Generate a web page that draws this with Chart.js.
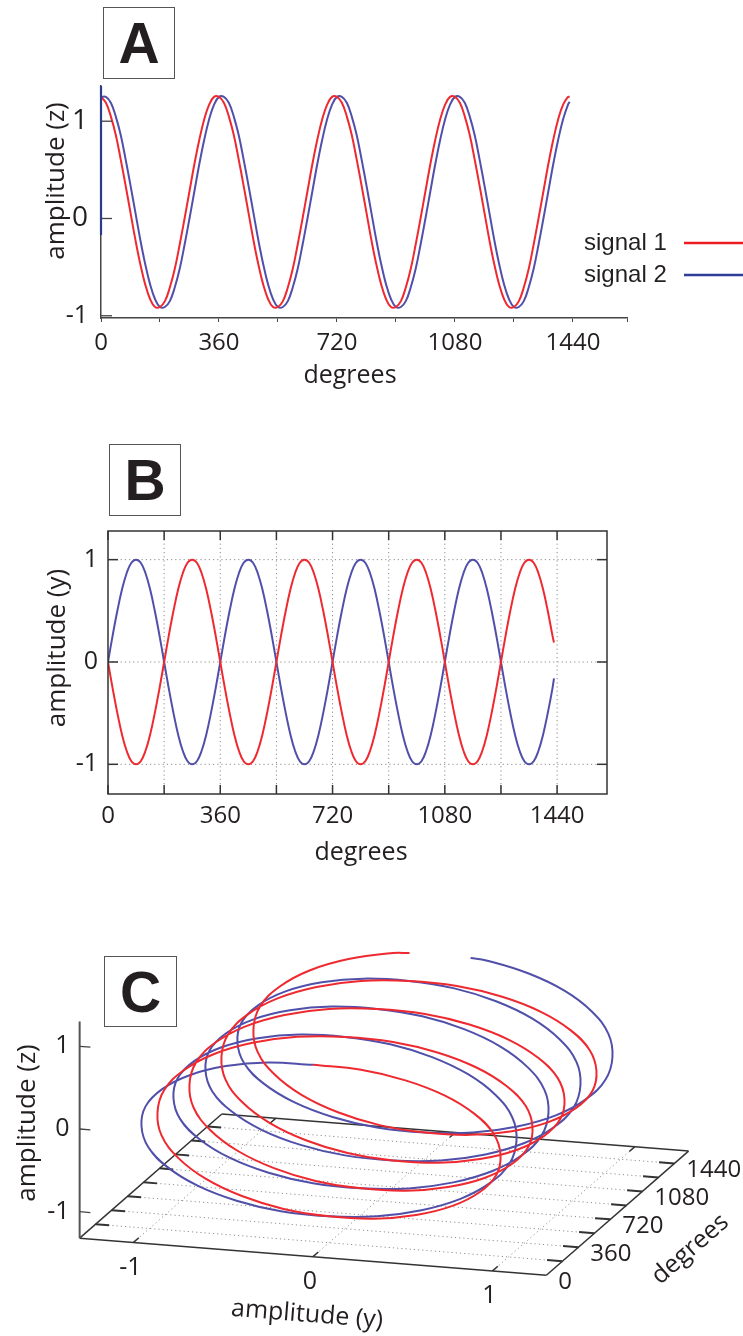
<!DOCTYPE html>
<html>
<head>
<meta charset="utf-8">
<script src="https://cdn.jsdelivr.net/npm/chart.js@4.4.1/dist/chart.umd.min.js"></script>
<style>
  body { margin: 0; background: #fff; }
  #page { position: relative; width: 743px; height: 1336px; overflow: hidden; background: #fff; }
  canvas { position: absolute; left: 0; }
  .tag {
    position: absolute; box-sizing: border-box; border: 1.5px solid #555;
    display: flex; align-items: center; justify-content: center;
    font: bold 57px "Liberation Sans", Arial, sans-serif; color: #231f20;
  }
</style>
</head>
<body>
<div id="page">
  <canvas id="chartA" width="743" height="400" style="top:0"></canvas>
  <canvas id="chartB" width="743" height="460" style="top:420px"></canvas>
  <canvas id="chartC" width="743" height="406" style="top:930px"></canvas>
  <div class="tag" style="left:103px;top:7px;width:72px;height:72px">A</div>
  <div class="tag" style="left:109px;top:444px;width:72px;height:72px">B</div>
  <div class="tag" style="left:104px;top:956px;width:73px;height:71px">C</div>
</div>
<script>
// sample positions along the phase axis (degrees)
const degrees = [
  0, 15, 30, 45, 60, 75, 90, 105, 120, 135, 150, 165, 180, 195, 210, 225, 240, 255, 270, 285, 300, 315, 330, 345,
  360, 375, 390, 405, 420, 435, 450, 465, 480, 495, 510, 525, 540, 555, 570, 585, 600, 615, 630, 645, 660, 675, 690, 705,
  720, 735, 750, 765, 780, 795, 810, 825, 840, 855, 870, 885, 900, 915, 930, 945, 960, 975, 990, 1005, 1020, 1035, 1050, 1065,
  1080, 1095, 1110, 1125, 1140, 1155, 1170, 1185, 1200, 1215, 1230, 1245, 1260, 1275, 1290, 1305, 1320, 1335, 1350, 1365, 1380, 1395, 1410, 1425,
  1430
];

// A: amplitude (z)
const signal1Z = [
  1.25, 1.19, 1.05, 0.86, 0.61, 0.34, 0.06, -0.22, -0.47, -0.68, -0.83, -0.91, -0.91, -0.85, -0.71, -0.52, -0.27, 0, 0.28, 0.56, 0.81, 1.02, 1.17, 1.25,
  1.25, 1.19, 1.05, 0.86, 0.61, 0.34, 0.06, -0.22, -0.47, -0.68, -0.83, -0.91, -0.91, -0.85, -0.71, -0.52, -0.27, 0, 0.28, 0.56, 0.81, 1.02, 1.17, 1.25,
  1.25, 1.19, 1.05, 0.86, 0.61, 0.34, 0.06, -0.22, -0.47, -0.68, -0.83, -0.91, -0.91, -0.85, -0.71, -0.52, -0.27, 0, 0.28, 0.56, 0.81, 1.02, 1.17, 1.25,
  1.25, 1.19, 1.05, 0.86, 0.61, 0.34, 0.06, -0.22, -0.47, -0.68, -0.83, -0.91, -0.91, -0.85, -0.71, -0.52, -0.27, 0, 0.28, 0.56, 0.81, 1.02, 1.17, 1.25,
  1.25
];
const signal2Z = [
  1.25, 1.25, 1.19, 1.05, 0.86, 0.61, 0.34, 0.06, -0.22, -0.47, -0.68, -0.83, -0.91, -0.91, -0.85, -0.71, -0.52, -0.27, 0, 0.28, 0.56, 0.81, 1.02, 1.17,
  1.25, 1.25, 1.19, 1.05, 0.86, 0.61, 0.34, 0.06, -0.22, -0.47, -0.68, -0.83, -0.91, -0.91, -0.85, -0.71, -0.52, -0.27, 0, 0.28, 0.56, 0.81, 1.02, 1.17,
  1.25, 1.25, 1.19, 1.05, 0.86, 0.61, 0.34, 0.06, -0.22, -0.47, -0.68, -0.83, -0.91, -0.91, -0.85, -0.71, -0.52, -0.27, 0, 0.28, 0.56, 0.81, 1.02, 1.17,
  1.25, 1.25, 1.19, 1.05, 0.86, 0.61, 0.34, 0.06, -0.22, -0.47, -0.68, -0.83, -0.91, -0.91, -0.85, -0.71, -0.52, -0.27, 0, 0.28, 0.56, 0.81, 1.02, 1.17,
  1.20
];

// B: amplitude (y)
const signal1Y = [
  0, -0.26, -0.5, -0.71, -0.87, -0.97, -1, -0.97, -0.87, -0.71, -0.5, -0.26, 0, 0.26, 0.5, 0.71, 0.87, 0.97, 1, 0.97, 0.87, 0.71, 0.5, 0.26,
  0, -0.26, -0.5, -0.71, -0.87, -0.97, -1, -0.97, -0.87, -0.71, -0.5, -0.26, 0, 0.26, 0.5, 0.71, 0.87, 0.97, 1, 0.97, 0.87, 0.71, 0.5, 0.26,
  0, -0.26, -0.5, -0.71, -0.87, -0.97, -1, -0.97, -0.87, -0.71, -0.5, -0.26, 0, 0.26, 0.5, 0.71, 0.87, 0.97, 1, 0.97, 0.87, 0.71, 0.5, 0.26,
  0, -0.26, -0.5, -0.71, -0.87, -0.97, -1, -0.97, -0.87, -0.71, -0.5, -0.26, 0, 0.26, 0.5, 0.71, 0.87, 0.97, 1, 0.97, 0.87, 0.71, 0.5, 0.26,
  0.19
];
const signal2Y = [
  0, 0.26, 0.5, 0.71, 0.87, 0.97, 1, 0.97, 0.87, 0.71, 0.5, 0.26, 0, -0.26, -0.5, -0.71, -0.87, -0.97, -1, -0.97, -0.87, -0.71, -0.5, -0.26,
  0, 0.26, 0.5, 0.71, 0.87, 0.97, 1, 0.97, 0.87, 0.71, 0.5, 0.26, 0, -0.26, -0.5, -0.71, -0.87, -0.97, -1, -0.97, -0.87, -0.71, -0.5, -0.26,
  0, 0.26, 0.5, 0.71, 0.87, 0.97, 1, 0.97, 0.87, 0.71, 0.5, 0.26, 0, -0.26, -0.5, -0.71, -0.87, -0.97, -1, -0.97, -0.87, -0.71, -0.5, -0.26,
  0, 0.26, 0.5, 0.71, 0.87, 0.97, 1, 0.97, 0.87, 0.71, 0.5, 0.26, 0, -0.26, -0.5, -0.71, -0.87, -0.97, -1, -0.97, -0.87, -0.71, -0.5, -0.26,
  -0.16
];

// C: helix, amplitude (y) and amplitude (z) against degrees
const helixRedY = [
  0, 0.26, 0.5, 0.71, 0.87, 0.97, 1, 0.97, 0.87, 0.71, 0.5, 0.26, 0, -0.26, -0.5, -0.71, -0.87, -0.97, -1, -0.97, -0.87, -0.71, -0.5, -0.26,
  0, 0.26, 0.5, 0.71, 0.87, 0.97, 1, 0.97, 0.87, 0.71, 0.5, 0.26, 0, -0.26, -0.5, -0.71, -0.87, -0.97, -1, -0.97, -0.87, -0.71, -0.5, -0.26,
  0, 0.26, 0.5, 0.71, 0.87, 0.97, 1, 0.97, 0.87, 0.71, 0.5, 0.26, 0, -0.26, -0.5, -0.71, -0.87, -0.97, -1, -0.97, -0.87, -0.71, -0.5, -0.26,
  0, 0.26, 0.5, 0.71, 0.87, 0.97, 1, 0.97, 0.87, 0.71, 0.5, 0.26, 0, -0.26, -0.5, -0.71, -0.87, -0.97, -1, -0.97, -0.87, -0.71, -0.5, -0.26,
  -0.17
];
const helixBlueY = [
  0, -0.26, -0.5, -0.71, -0.87, -0.97, -1, -0.97, -0.87, -0.71, -0.5, -0.26, 0, 0.26, 0.5, 0.71, 0.87, 0.97, 1, 0.97, 0.87, 0.71, 0.5, 0.26,
  0, -0.26, -0.5, -0.71, -0.87, -0.97, -1, -0.97, -0.87, -0.71, -0.5, -0.26, 0, 0.26, 0.5, 0.71, 0.87, 0.97, 1, 0.97, 0.87, 0.71, 0.5, 0.26,
  0, -0.26, -0.5, -0.71, -0.87, -0.97, -1, -0.97, -0.87, -0.71, -0.5, -0.26, 0, 0.26, 0.5, 0.71, 0.87, 0.97, 1, 0.97, 0.87, 0.71, 0.5, 0.26,
  0, -0.26, -0.5, -0.71, -0.87, -0.97, -1, -0.97, -0.87, -0.71, -0.5, -0.26, 0, 0.26, 0.5, 0.71, 0.87, 0.97, 1, 0.97, 0.87, 0.71, 0.5, 0.26,
  0.17
];
const helixZ = [
  1, 0.97, 0.87, 0.71, 0.5, 0.26, 0, -0.26, -0.5, -0.71, -0.87, -0.97, -1, -0.97, -0.87, -0.71, -0.5, -0.26, 0, 0.26, 0.5, 0.71, 0.87, 0.97,
  1, 0.97, 0.87, 0.71, 0.5, 0.26, 0, -0.26, -0.5, -0.71, -0.87, -0.97, -1, -0.97, -0.87, -0.71, -0.5, -0.26, 0, 0.26, 0.5, 0.71, 0.87, 0.97,
  1, 0.97, 0.87, 0.71, 0.5, 0.26, 0, -0.26, -0.5, -0.71, -0.87, -0.97, -1, -0.97, -0.87, -0.71, -0.5, -0.26, 0, 0.26, 0.5, 0.71, 0.87, 0.97,
  1, 0.97, 0.87, 0.71, 0.5, 0.26, 0, -0.26, -0.5, -0.71, -0.87, -0.97, -1, -0.97, -0.87, -0.71, -0.5, -0.26, 0, 0.26, 0.5, 0.71, 0.87, 0.97,
  0.98
];

const seriesNames = ['signal 1', 'signal 2'];
const degreeTicks = [0, 180, 360, 540, 720, 900, 1080, 1260, 1440];
const degreeLabels = [0, 360, 720, 1080, 1440];
const amplitudeTicks = [-1, 0, 1];

const RED = '#ee2a30';
const BLUE = '#5050aa';
const INK = '#231f20';
const AXIS = '#444';
const SANS = '"Open Sans", sans-serif';

function pts(ys) {
  return degrees.map((d, i) => ({ x: d, y: ys[i] }));
}

function label(ctx, str, x, y, size, opt = {}) {
  ctx.save();
  ctx.font = size + 'px ' + (opt.family || SANS);
  ctx.fillStyle = INK;
  ctx.textAlign = opt.align || 'center';
  ctx.textBaseline = 'middle';
  ctx.translate(x, y);
  if (opt.angle) ctx.rotate(opt.angle);
  ctx.fillText(str, 0, 0);
  ctx.restore();
}

function stroke(ctx, x1, y1, x2, y2, color, width, dash) {
  ctx.save();
  ctx.strokeStyle = color;
  ctx.lineWidth = width;
  ctx.setLineDash(dash || []);
  ctx.beginPath();
  ctx.moveTo(x1, y1);
  ctx.lineTo(x2, y2);
  ctx.stroke();
  ctx.restore();
}

function curve(name, data, color) {
  return {
    label: name, data: data, borderColor: color, borderWidth: 2,
    showLine: true, pointRadius: 0, tension: 0.4, fill: false
  };
}

const base = {
  responsive: false,
  animation: false,
  devicePixelRatio: 1,
  events: [],
  plugins: { legend: { display: false }, tooltip: { enabled: false } }
};

// ---------- A ----------
const panelA = {
  id: 'panelA',
  afterDraw(chart) {
    const { ctx, chartArea: a, scales: { y } } = chart;
    amplitudeTicks.forEach(v => {
      const py = y.getPixelForValue(v);
      stroke(ctx, a.left, py, a.left + 11, py, AXIS, 1.3);
    });
    // dark blue stretch on the upper part of the z axis
    stroke(ctx, a.left, a.top, a.left, y.getPixelForValue(-0.17), '#2b3c8f', 2.2);

    chart.data.datasets.forEach((ds, i) => {
      const ly = 243 + i * 32;
      label(ctx, ds.label, 584, ly, 24, { align: 'left', family: '"Liberation Sans", Arial, sans-serif' });
      stroke(ctx, 684, ly, 743, ly, ds.legendColor, 2.4);
    });

    label(ctx, 'amplitude (z)', 57, 181, 26, { angle: -Math.PI / 2 });
    label(ctx, 'degrees', 350, 376, 25);
  }
};

new Chart(document.getElementById('chartA'), {
  type: 'scatter',
  data: {
    datasets: [
      Object.assign(curve(seriesNames[0], pts(signal1Z), RED), { legendColor: '#ec1c24' }),
      Object.assign(curve(seriesNames[1], pts(signal2Z), BLUE), { legendColor: '#2e3d98' })
    ]
  },
  options: Object.assign({}, base, {
    layout: { padding: { top: 86, right: 743 - 627, bottom: 0, left: 0 } },
    scales: {
      x: {
        type: 'linear', min: 0, max: 1605,
        afterFit: s => { s.height = 400 - 318; },
        afterBuildTicks: s => { s.ticks = degreeTicks.concat([s.max]).map(v => ({ value: v })); },
        grid: { drawOnChartArea: false, drawTicks: true, tickLength: 4, color: AXIS, lineWidth: 1 },
        border: { color: AXIS, width: 1.5 },
        ticks: {
          padding: 7, color: INK, autoSkip: false, maxRotation: 0,
          font: { family: SANS, size: 24 },
          callback: v => degreeLabels.includes(v) ? String(v) : ''
        }
      },
      y: {
        type: 'linear', min: -1.023, max: 1.362,
        afterFit: s => { s.width = 101; },
        afterBuildTicks: s => { s.ticks = amplitudeTicks.map(v => ({ value: v })); },
        grid: { display: false, drawTicks: false },
        border: { color: AXIS, width: 1.5 },
        ticks: {
          padding: 13, color: INK,
          font: c => ({ family: SANS, size: c.tick && c.tick.value === -1 ? 25 : 28 })
        }
      }
    }
  }),
  plugins: [panelA]
});

// ---------- B ----------
const panelB = {
  id: 'panelB',
  beforeDatasetsDraw(chart) {
    const { ctx, chartArea: a, scales: { x, y } } = chart;
    degreeTicks.slice(1).forEach(d => {
      const px = x.getPixelForValue(d);
      stroke(ctx, px, a.top, px, a.bottom, '#8c8c8c', 1, [1.2, 3]);
    });
    amplitudeTicks.forEach(v => {
      const py = y.getPixelForValue(v);
      stroke(ctx, a.left, py, a.right, py, '#8c8c8c', 1, [1.2, 3]);
    });
  },
  afterDraw(chart) {
    const { ctx, chartArea: a, scales: { x, y } } = chart;
    ctx.save();
    ctx.strokeStyle = '#333';
    ctx.lineWidth = 1.5;
    ctx.strokeRect(a.left, a.top, a.right - a.left, a.bottom - a.top);
    ctx.restore();
    degreeTicks.forEach(d => {
      const px = x.getPixelForValue(d);
      stroke(ctx, px, a.top, px, a.top + 9, '#333', 1.5);
      stroke(ctx, px, a.bottom, px, a.bottom - 9, '#333', 1.5);
    });
    amplitudeTicks.forEach(v => {
      const py = y.getPixelForValue(v);
      stroke(ctx, a.left, py, a.left + 10, py, '#333', 1.5);
      stroke(ctx, a.right, py, a.right - 10, py, '#333', 1.5);
    });
    label(ctx, 'amplitude (y)', 58, 228, 26, { angle: -Math.PI / 2 });
    label(ctx, 'degrees', 361, 433, 25);
  }
};

new Chart(document.getElementById('chartB'), {
  type: 'scatter',
  data: {
    datasets: [
      curve(seriesNames[0], pts(signal1Y), RED),
      curve(seriesNames[1], pts(signal2Y), BLUE)
    ]
  },
  options: Object.assign({}, base, {
    layout: { padding: { top: 111, right: 743 - 607, bottom: 0, left: 0 } },
    scales: {
      x: {
        type: 'linear', min: 0, max: 1600,
        afterFit: s => { s.height = 460 - 374; },
        afterBuildTicks: s => { s.ticks = degreeLabels.map(v => ({ value: v })); },
        grid: { display: false, drawTicks: false },
        border: { display: false },
        ticks: {
          padding: 8, color: INK, autoSkip: false, maxRotation: 0,
          font: { family: SANS, size: 24 },
          callback: v => String(v)
        }
      },
      y: {
        type: 'linear', min: -1.29, max: 1.28,
        afterFit: s => { s.width = 108; },
        afterBuildTicks: s => { s.ticks = amplitudeTicks.map(v => ({ value: v })); },
        grid: { display: false, drawTicks: false },
        border: { display: false },
        ticks: { padding: 10, color: INK, font: { family: SANS, size: 25 } }
      }
    }
  }),
  plugins: [panelB]
});

// ---------- C ----------
// oblique view: amplitude (y) runs across, degrees recede up and to the right
const Y_SPAN = [-1.3, 1.3];
const DEG_SPAN = [0, 1600];
const Z_FLOOR = -1.32;
const Z_TOP = 1.3;

function project(ay, deg, az) {
  return { x: ay + deg * 0.000495, y: az - 0.1723 * ay + 0.000938 * deg };
}

const panelC = {
  id: 'panelC',
  beforeDatasetsDraw(chart) {
    const { ctx, scales: { x, y } } = chart;
    const P = (ay, d, az) => {
      const p = project(ay, d, az);
      return [x.getPixelForValue(p.x), y.getPixelForValue(p.y)];
    };
    const seg = (p, q, color, w, dash) => stroke(ctx, p[0], p[1], q[0], q[1], color, w, dash);
    const [y0, y1] = Y_SPAN;
    const [d0, d1] = DEG_SPAN;

    // floor grid
    degreeTicks.slice(1).forEach(d => seg(P(y0, d, Z_FLOOR), P(y1, d, Z_FLOOR), '#909090', 1, [1.2, 3]));
    amplitudeTicks.forEach(v => seg(P(v, d0, Z_FLOOR), P(v, d1, Z_FLOOR), '#909090', 1, [1.2, 3]));

    // floor outline
    const c00 = P(y0, d0, Z_FLOOR), c10 = P(y1, d0, Z_FLOOR), c11 = P(y1, d1, Z_FLOOR), c01 = P(y0, d1, Z_FLOOR);
    seg(c00, c10, '#333', 1.5);
    seg(c10, c11, '#333', 1.5);
    seg(c11, c01, '#333', 1.5);
    seg(c01, c00, '#333', 1.5);

    // degree ticks on both side edges
    degreeTicks.slice(1).forEach(d => {
      seg(P(y0, d, Z_FLOOR), P(y0 + 0.075, d, Z_FLOOR), '#333', 2);
      seg(P(y1, d, Z_FLOOR), P(y1 - 0.085, d, Z_FLOOR), '#333', 2);
    });
    // amplitude (y) ticks on front and back edges
    amplitudeTicks.forEach(v => {
      seg(P(v, d0, Z_FLOOR), P(v, d0 + 60, Z_FLOOR), '#333', 1.5);
      seg(P(v, d1, Z_FLOOR), P(v, d1 - 60, Z_FLOOR), '#333', 1.5);
    });

    // vertical amplitude (z) axis
    seg(P(y0, d0, Z_FLOOR), P(y0, d0, Z_TOP), '#555', 2);
    amplitudeTicks.forEach(v => {
      const p = P(y0, d0, v);
      seg(p, P(y0 + 0.06, d0, v), '#444', 1.3);
      label(ctx, String(v), p[0] - 10, p[1], 25, { align: 'right' });
    });

    amplitudeTicks.forEach(v => {
      const p = P(v, d0, Z_FLOOR);
      label(ctx, String(v), p[0] - 3, p[1] + 25, 25);
    });
    degreeLabels.forEach(d => {
      const p = P(y1, d, Z_FLOOR);
      label(ctx, String(d), p[0] + 12, p[1] + 7, 24, { align: 'left' });
    });

    const front = Math.atan2(c10[1] - c00[1], c10[0] - c00[0]);
    const side = Math.atan2(c11[1] - c10[1], c11[0] - c10[0]);
    const mid = P(0, d0, Z_FLOOR);
    label(ctx, 'amplitude (y)', mid[0] - 6, mid[1] + 58, 25, { angle: front });
    const sideMid = P(y1, 720, Z_FLOOR);
    label(ctx, 'degrees', sideMid[0] + 80, sideMid[1] + 30, 25, { angle: side });
    label(ctx, 'amplitude (z)', 28, 193, 26, { angle: -Math.PI / 2 });
  }
};

function helix(ys) {
  return degrees.map((d, i) => project(ys[i], d, helixZ[i]));
}

new Chart(document.getElementById('chartC'), {
  type: 'scatter',
  data: {
    datasets: [
      curve(seriesNames[0], helix(helixRedY), RED),
      curve(seriesNames[1], helix(helixBlueY), BLUE)
    ]
  },
  options: Object.assign({}, base, {
    layout: { padding: 0 },
    scales: {
      x: { type: 'linear', display: false, min: -1.7437, max: 2.3955 },
      y: { type: 'linear', display: false, min: -2.279, max: 2.630 }
    }
  }),
  plugins: [panelC]
});
</script>
</body>
</html>
